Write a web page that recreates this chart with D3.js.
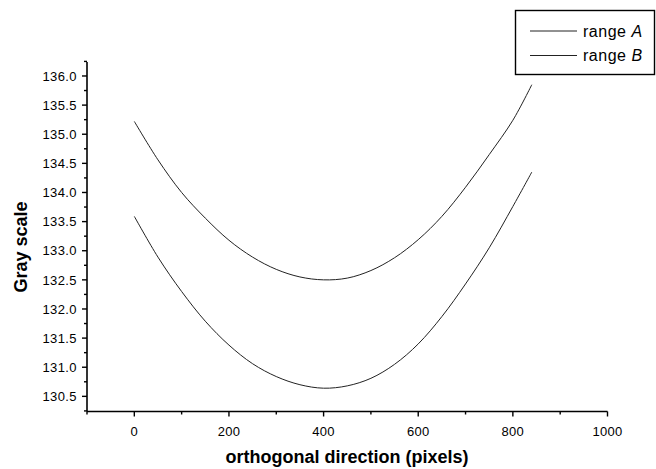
<!DOCTYPE html>
<html>
<head>
<meta charset="utf-8">
<script src="https://cdn.jsdelivr.net/npm/d3@7"></script>
<style>
  body { margin: 0; background: #fff; }
  text { font-family: "Liberation Sans", Arial, sans-serif; }
</style>
</head>
<body>
<div id="chart"></div>
<script>
// data
var xs     = [0, 50, 100, 150, 200, 250, 300, 350, 400, 450, 500, 550, 600, 650, 700, 750, 800, 840];
var rangeA = [135.22, 134.56, 134.00, 133.56, 133.18, 132.89, 132.68, 132.55, 132.50, 132.53, 132.66, 132.88, 133.19, 133.59, 134.09, 134.65, 135.24, 135.85];
var rangeB = [133.59, 132.89, 132.30, 131.79, 131.38, 131.06, 130.84, 130.70, 130.64, 130.68, 130.81, 131.05, 131.40, 131.87, 132.43, 133.05, 133.76, 134.35];
var seriesNames = ["A", "B"];
var xTicks = [0, 200, 400, 600, 800, 1000];
var yTicks = [130.5, 131.0, 131.5, 132.0, 132.5, 133.0, 133.5, 134.0, 134.5, 135.0, 135.5, 136.0];

var width = 656, height = 469;

var svg = d3.select("#chart")
  .append("svg")
    .attr("width", width)
    .attr("height", height);

// scales
var x = d3.scaleLinear()
  .domain([-100, 1000])
  .range([87, 607.5]);

var y = d3.scaleLinear()
  .domain([130.24, 136.24])
  .range([411.5, 62]);

// X axis
var xAxis = svg.append("g")
  .attr("transform", "translate(0," + y.range()[0] + ")");
xAxis.append("line")
  .attr("x1", x.range()[0]).attr("x2", x.range()[1])
  .attr("stroke", "#000").attr("stroke-width", 1.6);
xAxis.selectAll(".minor")
  .data(d3.range(-100, 1001, 100))
  .enter().append("line")
    .attr("x1", function(d) { return x(d); })
    .attr("x2", function(d) { return x(d); })
    .attr("y1", 0)
    .attr("y2", function(d) { return d % 200 === 0 ? 5 : 3; })
    .attr("stroke", "#000").attr("stroke-width", 1.4);
xAxis.selectAll(".lbl")
  .data(xTicks)
  .enter().append("text")
    .attr("x", function(d) { return x(d); })
    .attr("y", 24)
    .attr("text-anchor", "middle")
    .attr("font-size", 13)
    .attr("letter-spacing", 0.3)
    .text(function(d) { return d; });

// Y axis
var yAxis = svg.append("g")
  .attr("transform", "translate(" + x.range()[0] + ",0)");
yAxis.append("line")
  .attr("y1", y.range()[0]).attr("y2", y.range()[1])
  .attr("stroke", "#000").attr("stroke-width", 1.6);
yAxis.selectAll(".minor")
  .data(d3.range(130.25, 136.26, 0.25))
  .enter().append("line")
    .attr("y1", function(d) { return y(d); })
    .attr("y2", function(d) { return y(d); })
    .attr("x1", 0)
    .attr("x2", function(d) { return Math.abs(d * 2 - Math.round(d * 2)) < 1e-6 ? -5 : -3; })
    .attr("stroke", "#000").attr("stroke-width", 1.4);
yAxis.selectAll(".lbl")
  .data(yTicks)
  .enter().append("text")
    .attr("x", -10)
    .attr("y", function(d) { return y(d); })
    .attr("dy", "0.36em")
    .attr("text-anchor", "end")
    .attr("font-size", 13)
    .attr("letter-spacing", 0.4)
    .text(function(d) { return d.toFixed(1); });

// axis titles
svg.append("text")
  .attr("x", 347)
  .attr("y", 463)
  .attr("text-anchor", "middle")
  .attr("font-size", 18)
  .attr("font-weight", "bold")
  .text("orthogonal direction (pixels)");

svg.append("text")
  .attr("transform", "translate(27,247) rotate(-90)")
  .attr("text-anchor", "middle")
  .attr("font-size", 18)
  .attr("font-weight", "bold")
  .text("Gray scale");

// curves
var line = d3.line()
  .x(function(d) { return x(d[0]); })
  .y(function(d) { return y(d[1]); })
  .curve(d3.curveCatmullRom);

[rangeA, rangeB].forEach(function(vals) {
  svg.append("path")
    .datum(xs.map(function(v, i) { return [v, vals[i]]; }))
    .attr("fill", "none")
    .attr("stroke", "#222")
    .attr("stroke-width", 1)
    .attr("d", line);
});

// legend
var legend = svg.append("g");
legend.append("rect")
  .attr("x", 515.5).attr("y", 10.5)
  .attr("width", 139).attr("height", 64)
  .attr("fill", "#fff")
  .attr("stroke", "#000").attr("stroke-width", 1.4);

seriesNames.forEach(function(name, i) {
  var ly = 31 + i * 24.5;
  legend.append("line")
    .attr("x1", 530).attr("x2", 577)
    .attr("y1", ly).attr("y2", ly)
    .attr("stroke", "#222").attr("stroke-width", 1);
  var t = legend.append("text")
    .attr("x", 583)
    .attr("y", ly)
    .attr("dy", "0.36em")
    .attr("font-size", 16)
    .attr("letter-spacing", 0.5);
  t.append("tspan").text("range ");
  t.append("tspan").attr("font-style", "italic").text(name);
});
</script>
</body>
</html>
